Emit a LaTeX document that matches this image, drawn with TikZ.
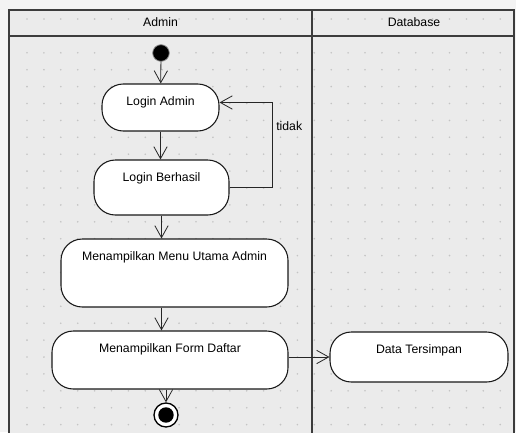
\documentclass[tikz,border=0pt]{standalone}
\usepackage{fontspec}
\setmainfont{Liberation Sans}
\usetikzlibrary{arrows.meta}
\definecolor{pagebg}{RGB}{243, 243, 243}
\definecolor{lanebg}{RGB}{235, 235, 235}
\definecolor{griddot}{RGB}{196, 196, 196}
\definecolor{laneline}{RGB}{60, 60, 60}

\tikzset{
  act/.style 2 args={draw=black!90, line width=0.8pt, fill=white, rounded corners=16pt,
    inner xsep=0pt, inner ysep=9pt, text height=7pt, minimum width=#1, text depth=#2},
  initnode/.style={circle, fill=black, draw=black!45, line width=0.6pt,
    minimum size=12.5pt, inner sep=0pt},
  finalnode/.style={circle, draw=black, line width=1pt, fill=white,
    minimum size=18pt, inner sep=0pt,
    path picture={\fill[black] (path picture bounding box.center) circle (5.8pt);}},
  flow/.style={draw=black!85, line width=0.6pt, -{Straight Barb[length=9pt,width=10pt]}}
}

\begin{document}
\begin{tikzpicture}[x=0.75pt,y=0.75pt,yscale=-1,xscale=1,
  font=\fontsize{9.2}{11}\selectfont]
\useasboundingbox (0,0) rectangle (516,432);
\fill[pagebg] (0,0) rectangle (516,432);

%Swimlanes
\fill[lanebg] (9,10) rectangle (514,440);
\foreach \i in {0,...,28}
  \foreach \j in {0,...,24}
    \fill[griddot] (27+16.9*\i,19+16.9*\j) circle (0.9);
\draw[laneline, line width=1.1pt] (9,440) -- (9,10) -- (514,10) -- (514,440);
\draw[laneline, line width=1.3pt] (9,36) -- (514,36);
\draw[laneline, line width=1pt] (312,10) -- (312,440);

% Lane titles
\node (admin) at (160.5,22) {Admin};
\node (database) at (414,22) {Database};

% Activities
\node[initnode] (start) at (161,53) {};
\node[act={87.75pt}{10.25pt}] (login) at (160.5,107.5) {Login Admin};
\node[act={101.25pt}{16.25pt}] (berhasil) at (161.5,187.5) {Login Berhasil};
\node[act={170.25pt}{26pt}] (menu) at (174.5,273) {Menampilkan Menu Utama Admin};
\node[act={177pt}{18.5pt}] (form) at (170,360) {Menampilkan Form Daftar};
\node[act={133.5pt}{12.5pt}] (data) at (419,357) {Data Tersimpan};
\node[finalnode] (stop) at (166,415) {};

% Flows
\draw[flow] (start) -- (login);
\draw[flow] (login.south) -- (login.south |- berhasil.north);
\draw[flow] (berhasil.east) -- ++(43,0) coordinate (turn)
  -- ++(0,-85) node[pos=0.72, right, inner sep=2.5pt] (tidak) {tidak}
  coordinate (back) -- (back -| login.east);
\draw[flow] (berhasil.south) -- (berhasil.south |- menu.north);
\draw[flow] (berhasil.south |- menu.south) -- (berhasil.south |- form.north);
\draw[flow] (form.east |- data.west) -- (data.west);
\draw[flow] (form.south -| stop) -- (stop);

\end{tikzpicture}
\end{document}
